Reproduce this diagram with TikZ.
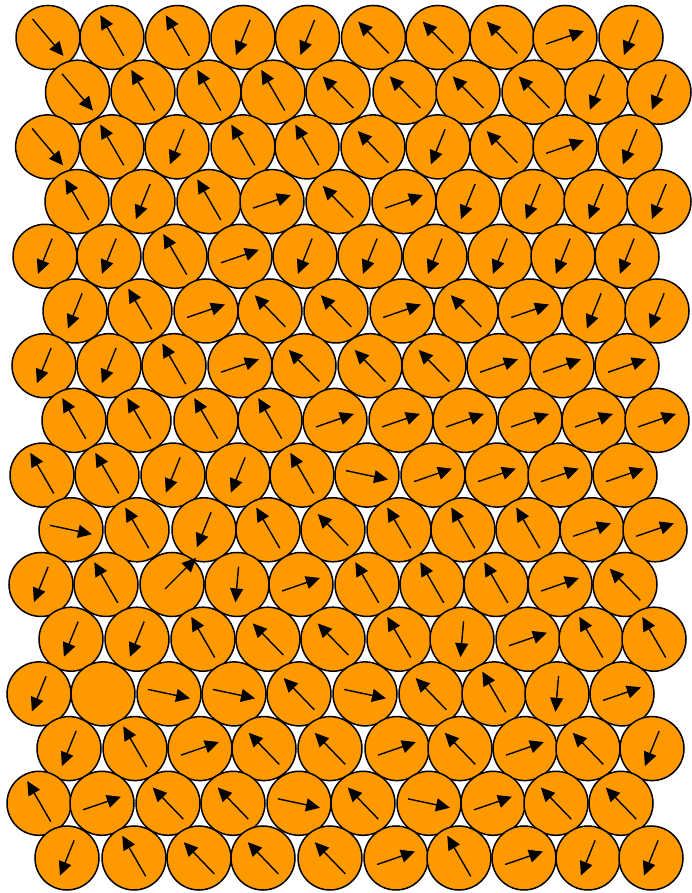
\documentclass[tikz,border=0pt]{standalone}
\usetikzlibrary{arrows.meta}
\definecolor{grainfill}{RGB}{255,153,0}

\begin{document}
\begin{tikzpicture}[
    x=1pt, y=1pt,
    grain/.style={draw=black, fill=grainfill, line width=1.5pt},
    spin/.style={-{Triangle[length=14pt, width=13pt]}, line width=1.4pt},
    % one pic per spin direction
    pics/se/.style={code={\draw[spin] (130:24) -- (-50:24);}},
    pics/nnw/.style={code={\draw[spin, yshift=2pt] (-60:23.5) -- (120:23.5);}},
    pics/ssw/.style={code={\draw[spin] (68:19) -- (-112:19);}},
    pics/nw/.style={code={\draw[spin] (-46:22) -- (134:22);}},
    pics/ene/.style={code={\draw[spin] (199:20) -- (19:20);}},
    pics/ese/.style={code={\draw[spin] (168:21.5) -- (-12:21.5);}},
    pics/s/.style={code={\draw[spin] (85:18) -- (-95:18);}},
    pics/ne/.style={code={\draw[spin] (-7,-4.5) -- ++(45:44);}},
    pics/none/.style={code={}}
  ]
  \useasboundingbox (0,0) rectangle (691,893);

  \foreach \y/\row in {
      855.5/{48/se,112/nnw,177.5/nnw,243/ssw,307.5/ssw,373.5/nw,438/nw,502/nw,565/ene,631/ssw},
      800.8/{77.5/se,143/nnw,209/nnw,273/nnw,338/nw,405/nw,468/nw,534/nw,597/ssw,659/ssw},
      746.1/{47.6/se,112/nnw,177/ssw,243/nnw,307/nnw,373/nw,438/ssw,502/nw,565/ene,630/ssw},
      691.4/{77/nnw,143/ssw,209/nnw,272/ene,338/nw,404/ene,468/ssw,533/ssw,596/ssw,659/ssw},
      636.7/{45/ssw,109/ssw,175/nnw,240/ene,305/ssw,370/ssw,435/ssw,500/ssw,563/ssw,627/ssw},
      582/{75/ssw,140/nnw,206/ene,270/nw,336/nw,402/ene,466/nw,530/ene,594/ssw,657/ssw},
      527.3/{44/ssw,109/ssw,174/nnw,240/ene,304/nw,370/nw,434/nw,499/ene,562/ene,627/ene},
      472.6/{74/nnw,139/nnw,206/nnw,270/nnw,335/ene,401/ene,465/ene,530/ene,594/ene,657/ene},
      417.9/{42/nnw,107/nnw,173/ssw,238/ssw,302/nnw,367/ese,433/ene,497/ene,560/ene,625/ene},
      363.2/{71/ese,137/nnw,204/ssw,268/nnw,333/nw,399/nnw,463/nnw,528/nnw,592/ene,655/ene},
      308.5/{41/ssw,106/nnw,172/ne,237/s,301/ene,367/nnw,432/nnw,496/nnw,560/ene,625/nw},
      253.8/{71/ssw,137/ssw,203/nnw,268/nw,333/nw,399/nnw,462/s,528/ene,591/nnw,654/nnw},
      199.1/{39/ssw,103/none,169/ese,234/ese,299/nw,365/ese,431/nw,494/nnw,557/s,622/ene},
      144.4/{69/ssw,135/nnw,200/ene,264/nw,330/nw,397/ene,460/nw,525/ene,588/nw,652/ssw},
      89.7/{39/nnw,102/ene,168/nw,233/nw,299/ese,363/nw,429/ese,493/ene,556/nw,621/nw},
      35/{67/ssw,134/nnw,199/nw,263/nw,330/nw,396/ene,459/nnw,524/ene,588/ssw,651/ssw}} {
    \foreach \x/\s in \row {
      \draw[grain] (\x,\y) circle (32);
      \pic at (\x,\y) {\s};
    }
  }
\end{tikzpicture}
\end{document}
